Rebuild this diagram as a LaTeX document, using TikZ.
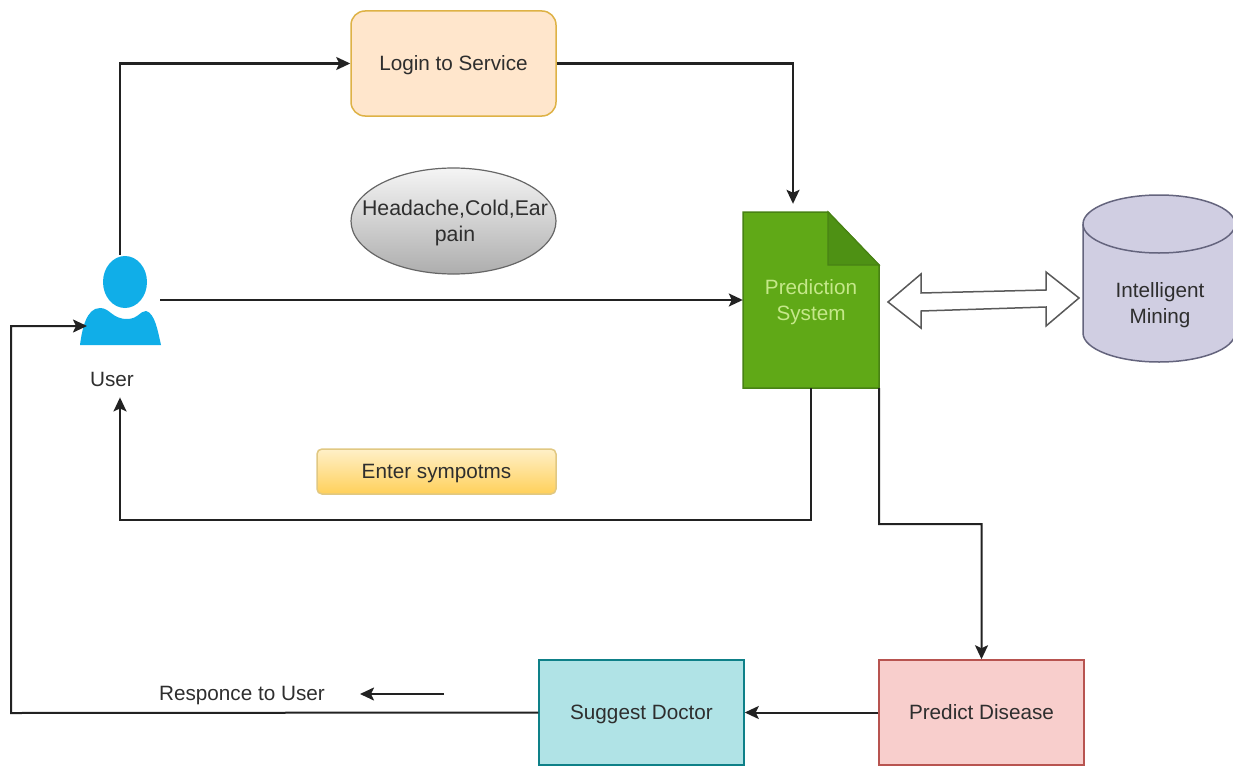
\documentclass[tikz,border=0pt]{standalone}
\usepackage{fontspec}
\setmainfont{Liberation Sans}
\usetikzlibrary{arrows.meta,calc}
\definecolor{txt}{HTML}{2E2E2E}
\definecolor{lin}{HTML}{222222}
\definecolor{usercol}{RGB}{16,174,232}
\definecolor{docline}{RGB}{72,130,20}
\definecolor{cylline}{RGB}{100,100,125}
\tikzset{
  x=1pt,y=-1pt,
  lbl/.style={font=\fontsize{20.7}{25.5}\selectfont,text=txt,align=center,inner sep=0pt},
  boxed/.style={lbl,draw,line width=1.5pt,anchor=center,minimum width=#1,text height=20pt,text depth=6pt},
  conn/.style={draw=lin,line width=2pt,-{Stealth[length=14pt,width=13pt,inset=3pt]}},
}
\begin{document}
\begin{tikzpicture}
\useasboundingbox (0,0) rectangle (1233,768);
\fill[white] (0,0) rectangle (1233,768);
% user icon
\node[minimum width=80pt,minimum height=90pt,inner sep=0pt] (user) at (120,300) {};
\fill[usercol] (125,282) ellipse [x radius=22,y radius=26];
\fill[usercol] (80,345) .. controls (82,330) and (86,308) .. (100,308)
  .. controls (110,308) and (112,319) .. (127,319)
  .. controls (138,319) and (140,311) .. (146,311)
  .. controls (155,313) and (158,332) .. (161,345) -- cycle;
\node[lbl] (userlabel) at (112,379) {User};
% boxes
\node[boxed=205pt,minimum height=105pt,rounded corners=14pt,draw={rgb,255:red,222;green,178;blue,70},fill={rgb,255:red,255;green,230;blue,204}] (login) at (453.5,63.5) {Login to Service};
\shade[top color=white!96!black,bottom color=black!32,draw=black!60,line width=1.2pt] (453.5,221) ellipse [x radius=102.5,y radius=53];
\node[lbl,text width=200pt,font=\fontsize{21.3}{26}\selectfont] (symptoms) at (455,222.5) {Headache,Cold,Ear\\pain};
\node[boxed=239pt,minimum height=45pt,rounded corners=5pt,draw={rgb,255:red,225;green,200;blue,130},top color={rgb,255:red,255;green,240;blue,200},bottom color={rgb,255:red,255;green,208;blue,90}] (enter) at (436.5,471.5) {Enter sympotms};
\node[boxed=205pt,minimum height=105pt,draw={rgb,255:red,184;green,84;blue,80},fill={rgb,255:red,248;green,206;blue,204}] (predict) at (981.5,712.5) {Predict Disease};
\node[boxed=205pt,minimum height=105pt,draw={rgb,255:red,14;green,128;blue,136},fill={rgb,255:red,176;green,227;blue,230}] (suggest) at (641.5,712.5) {Suggest Doctor};
% prediction system document
\node[minimum width=136pt,minimum height=176pt,inner sep=0pt] (doc) at (811,300) {};
\draw[line width=1.5pt,draw=docline,fill={rgb,255:red,96;green,169;blue,23}] (743,212) -- (828,212) -- (879,265) -- (879,388) -- (743,388) -- cycle;
\draw[line width=1.2pt,draw=docline,fill={rgb,255:red,78;green,145;blue,20}] (828,212) -- (828,265) -- (879,265) -- cycle;
\node[lbl,text={rgb,255:red,197;green,232;blue,138},text width=130pt] at (811,302) {Prediction\\System};
% cylinder
\begin{scope}
\clip (0,0) rectangle (1233,768);
\path[draw=cylline,line width=1.5pt,fill={rgb,255:red,208;green,206;blue,226}]
  (1083,224) -- (1083,333) .. controls (1083,349) and (1117,362) .. (1159,362)
  .. controls (1201,362) and (1235,349) .. (1235,333) -- (1235,224)
  .. controls (1235,208) and (1201,195) .. (1159,195)
  .. controls (1117,195) and (1083,208) .. (1083,224) -- cycle;
\draw[draw=cylline,line width=1.5pt] (1083,224) .. controls (1083,240) and (1117,253) .. (1159,253)
  .. controls (1201,253) and (1235,240) .. (1235,224);
\end{scope}
\node[minimum width=150pt,minimum height=167pt,inner sep=0pt] (mining) at (1158,278.5) {};
\node[lbl,text width=140pt] at (1160,305) {Intelligent\\Mining};
% double block arrow
\draw[line width=1.5pt,draw=black!65,fill=white,line join=miter]
  (888,302) -- (921,274) -- (921,293) -- (1046,290) -- (1046,272) -- (1079,298) -- (1046,326) -- (1046,307) -- (921,311) -- (921,328) -- cycle;
% connectors
\draw[conn] (user.north) -- (user.north |- login.west) -- (login.west);
\coordinate (docin) at ($(doc.north)+(-18,-8)$);
\draw[conn] (login.east) -| (docin);
\draw[conn] (user.east) -- (doc.west |- user.east);
\coordinate (docoutA) at (doc.south);
\coordinate (userin) at ($(userlabel.south)+(8,11)$);
\coordinate (lowA) at (811,520);
\draw[conn] (docoutA) -- (lowA) -- (lowA -| userin) -- (userin);
\coordinate (docoutB) at (doc.south east);
\coordinate (lowB) at (879,524);
\draw[conn] (docoutB) -- (lowB) -- (lowB -| predict.north) -- (predict.north);
\draw[conn] (predict.west) -- (suggest.east);
\coordinate (backleft) at (11,713);
\coordinate (usertarget) at (87,326);
\draw[conn] (suggest.west) -- (backleft) -- (backleft |- usertarget) -- (usertarget);
% response label
\node[lbl] (resp) at (242,696) {Responce to User};
\coordinate (respa) at (444,694);
\coordinate (respb) at (360,694);
\draw[conn] (respa) -- (respb);
\end{tikzpicture}
\end{document}
